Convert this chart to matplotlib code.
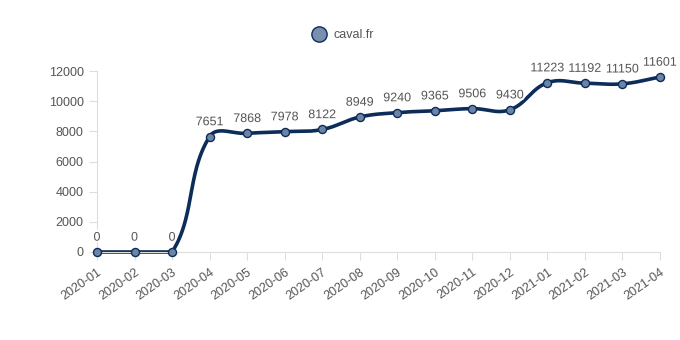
import numpy as np
import matplotlib
matplotlib.use("Agg")
import matplotlib.pyplot as plt
import matplotlib.patheffects as pe
from matplotlib.lines import Line2D

months = ["2020-01", "2020-02", "2020-03", "2020-04", "2020-05", "2020-06", "2020-07",
          "2020-08", "2020-09", "2020-10", "2020-11", "2020-12", "2021-01", "2021-02",
          "2021-03", "2021-04"]
values = [0, 0, 0, 7651, 7868, 7978, 8122, 8949, 9240, 9365, 9506, 9430, 11223, 11192,
          11150, 11601]
yticks = [0, 2000, 4000, 6000, 8000, 10000, 12000]
series_name = "caval.fr"

plt.rcParams['font.family'] = ['Liberation Sans', 'DejaVu Sans']

W, H = 680, 340
left_px, right_px, top_px, bottom_px = 97, 660, 71, 252
fig = plt.figure(figsize=(W/100, H/100), dpi=100)
ax = fig.add_axes([left_px/W, 1-bottom_px/H, (right_px-left_px)/W, (bottom_px-top_px)/H])

x = np.arange(len(values), dtype=float)
y = np.array(values, dtype=float)
xmax, ymax = len(values)-1, 12000.0

# Chart.js-style spline (tension 0.4) computed in pixel space, control points capped to area
sx = (right_px-left_px)/xmax
sy = (bottom_px-top_px)/ymax
P = np.column_stack([x*sx, y*sy])
n = len(P)
t_ = 0.4
cp_prev = np.zeros_like(P)
cp_next = np.zeros_like(P)
for i in range(n):
    prev = P[i-1] if i > 0 else P[i]
    cur = P[i]
    nxt = P[i+1] if i < n-1 else P[i]
    d01 = np.hypot(*(cur-prev))
    d12 = np.hypot(*(nxt-cur))
    tot = d01 + d12
    s01 = d01/tot if tot else 0
    s12 = d12/tot if tot else 0
    fa, fb = t_*s01, t_*s12
    cp_prev[i] = cur - fa*(nxt-prev)
    cp_next[i] = cur + fb*(nxt-prev)
lo = np.array([0, 0]); hi = np.array([xmax*sx, ymax*sy])
cp_prev = np.clip(cp_prev, lo, hi)
cp_next = np.clip(cp_next, lo, hi)

tt = np.linspace(0, 1, 50)[:, None]
segs = []
for i in range(n-1):
    p0, c1, c2, p1 = P[i], cp_next[i], cp_prev[i+1], P[i+1]
    b = (1-tt)**3*p0 + 3*(1-tt)**2*tt*c1 + 3*(1-tt)*tt**2*c2 + tt**3*p1
    segs.append(b)
curve = np.vstack(segs)
cx, cy = curve[:, 0]/sx, curve[:, 1]/sy

line_color = "#0c2c59"
ax.plot(cx, cy, color=line_color, lw=2.6, solid_capstyle='round', clip_on=False, zorder=2)
ax.plot(x, y, 'o', ms=5.8, mfc="#6c85a6", mec=line_color, mew=1.0, clip_on=False, zorder=3)

for xi, yi in zip(x, y):
    ax.annotate(f"{int(yi)}", (xi, yi), xytext=(0, 6), textcoords='offset points',
                ha='center', va='bottom', fontsize=9, color="#555555", zorder=4,
                path_effects=[pe.withStroke(linewidth=3, foreground='white')])

ax.set_xlim(0, xmax)
ax.set_ylim(0, ymax)
ax.set_xticks(x)
ax.set_xticklabels(months, rotation=35, ha='right', rotation_mode='anchor')
ax.set_yticks(yticks)
ax.tick_params(axis='both', colors="#dddddd", labelcolor="#555555", labelsize=9, length=6)
ax.tick_params(axis='x', pad=4)
for s in ['top', 'right']:
    ax.spines[s].set_visible(False)
for s in ['left', 'bottom']:
    ax.spines[s].set_color("#dddddd")

handle = Line2D([], [], marker='o', ls='none', ms=11, mfc="#7a8fae", mec=line_color, mew=1.0)
fig.legend([handle], [series_name], loc='center', bbox_to_anchor=(340/W, 1-35/H),
           frameon=False, fontsize=9, labelcolor="#555555", handletextpad=0.2)

fig.savefig("out.png", dpi=100, facecolor='white')
